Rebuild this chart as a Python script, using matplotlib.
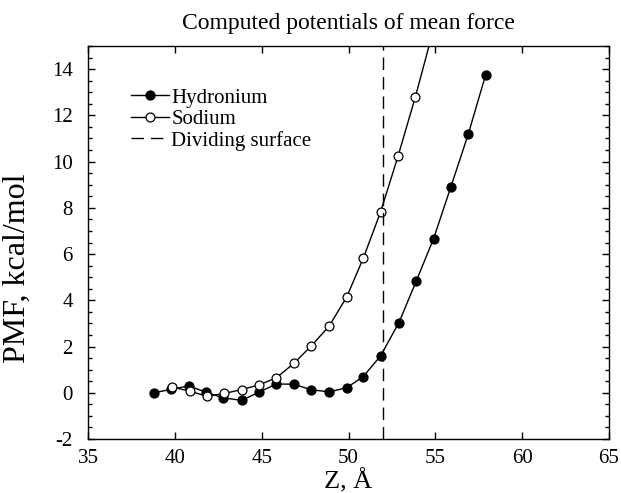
import numpy as np
import matplotlib
matplotlib.use("Agg")
import matplotlib.pyplot as plt
from matplotlib.ticker import MultipleLocator

plt.rcParams['font.family'] = ['Liberation Serif', 'DejaVu Serif']
plt.rcParams['axes.unicode_minus'] = False

# PMF profiles along the membrane normal (kcal/mol)
z_hyd = [38.8, 39.8, 40.8, 41.8, 42.8, 43.85, 44.85, 45.85, 46.85, 47.85,
         48.9, 49.9, 50.85, 51.85, 52.9, 53.9, 54.9, 55.9, 56.9, 57.9]
pmf_hyd = [0.0, 0.15, 0.3, 0.02, -0.22, -0.33, 0.03, 0.38, 0.37, 0.13,
           0.04, 0.22, 0.7, 1.6, 3.03, 4.83, 6.67, 8.92, 11.2, 13.76]

z_na = [39.85, 40.85, 41.85, 42.85, 43.85, 44.85, 45.85, 46.85, 47.85,
        48.9, 49.9, 50.85, 51.85, 52.85, 53.85, 54.85]
pmf_na = [0.25, 0.07, -0.15, -0.03, 0.14, 0.34, 0.65, 1.27, 2.02,
          2.9, 4.15, 5.82, 7.83, 10.23, 12.8, 15.6]

z_divide = 52.0

fig = plt.figure(figsize=(6.21, 4.93), dpi=100)
ax = fig.add_axes([0.1417, 0.1095, 0.8390, 0.7972])

ax.plot(z_hyd, pmf_hyd, '-o', color='black', lw=1.0, ms=6.4,
        mfc='black', mec='black', label='Hydronium')
ax.plot(z_na, pmf_na, '-o', color='black', lw=1.0, ms=6.4,
        mfc='white', mec='black', mew=0.9, label='Sodium')
ax.axvline(z_divide, color='black', lw=1.0, dashes=(9, 5),
           label='Dividing surface')

ax.set_xlim(35, 65)
ax.set_ylim(-2, 15)
ax.xaxis.set_major_locator(MultipleLocator(5))
ax.yaxis.set_major_locator(MultipleLocator(2))
ax.yaxis.set_minor_locator(MultipleLocator(0.5))
ax.tick_params(which='both', direction='in', top=True, right=True,
               width=1.0, labelsize=15)
ax.tick_params(which='major', length=5)
ax.tick_params(which='minor', length=3)
ax.tick_params(axis='x', pad=7)
ax.tick_params(axis='y', pad=11)
for s in ax.spines.values():
    s.set_linewidth(1.0)

ax.set_xlabel('Z, Å', fontsize=19, labelpad=0.5)
ax.set_ylabel('PMF, kcal/mol', fontsize=23)
ax.yaxis.set_label_coords(-0.108, 0.435)
ax.set_title('Computed potentials of mean force', fontsize=17, pad=12)

ax.legend(loc='upper left', bbox_to_anchor=(0.0665, 0.914), frameon=False,
          fontsize=15, handlelength=1.83, handletextpad=0.1,
          labelspacing=0.08, borderaxespad=0)

fig.savefig('out.png', dpi=100)
